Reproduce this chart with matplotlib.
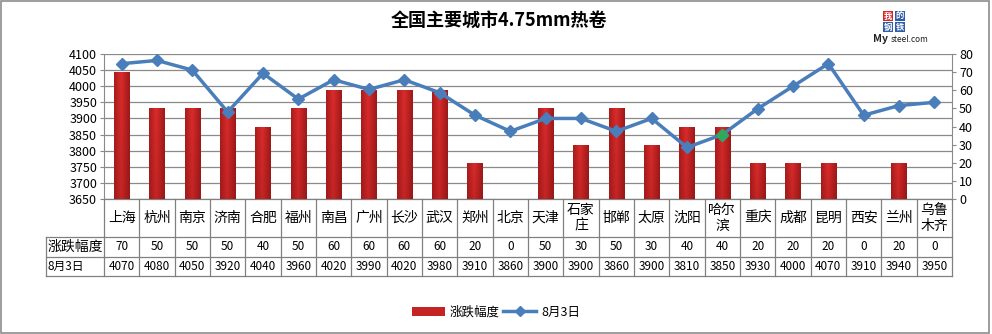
import numpy as np
import matplotlib
matplotlib.use("Agg")
import matplotlib.pyplot as plt
from matplotlib.patches import Rectangle
from matplotlib.lines import Line2D
from matplotlib.patches import Patch

plt.rcParams['font.family'] = ['Noto Sans CJK SC', 'DejaVu Sans']

cities = ['上海', '杭州', '南京', '济南', '合肥', '福州', '南昌', '广州', '长沙', '武汉', '郑州', '北京',
          '天津', '石家\n庄', '邯郸', '太原', '沈阳', '哈尔\n滨', '重庆', '成都', '昆明', '西安', '兰州', '乌鲁\n木齐']
change = [70, 50, 50, 50, 40, 50, 60, 60, 60, 60, 20, 0,
          50, 30, 50, 30, 40, 40, 20, 20, 20, 0, 20, 0]
price = [4070, 4080, 4050, 3920, 4040, 3960, 4020, 3990, 4020, 3980, 3910, 3860,
         3900, 3900, 3860, 3900, 3810, 3850, 3930, 4000, 4070, 3910, 3940, 3950]
left_ticks = list(range(3650, 4101, 50))
right_ticks = list(range(0, 81, 10))

W, H = 992, 334
fig = plt.figure(figsize=(W / 100, H / 100), dpi=100)
fig.patch.set_facecolor('white')
fig.add_artist(Rectangle((0.001, 0.002), 0.996, 0.995, transform=fig.transFigure,
                         fill=False, edgecolor='#8c8c8c', lw=1.2))

x0, x1, y0, y1 = 104, 952, 54, 199
ax = fig.add_axes([x0 / W, 1 - y1 / H, (x1 - x0) / W, (y1 - y0) / H])
ax2 = ax.twinx()
ax3 = ax.twinx()
for a, z in ((ax, 1), (ax2, 2), (ax3, 3)):
    a.set_zorder(z)
ax2.patch.set_visible(False)
ax3.patch.set_visible(False)

n = len(cities)
xs = np.arange(n)

# left axis: price scale and gridlines
ax.set_xlim(-0.5, n - 0.5)
ax.set_ylim(3650, 4100)
ax.set_yticks(left_ticks)
ax.yaxis.grid(True, color='#8a8a8a', lw=0.9)
ax.set_xticks([])
ax.tick_params(axis='y', labelsize=9, length=3, color='#8a8a8a', pad=2)
for s in ('top', 'right', 'bottom'):
    ax.spines[s].set_visible(False)
ax.spines['left'].set_color('#8a8a8a')

# right axis: change bars with gradient fill
ax2.set_xlim(-0.5, n - 0.5)
bars = ax2.bar(xs, change, width=0.43, color='none', edgecolor='none', zorder=2)
t = np.linspace(0, 1, 40)
prof = 1 - np.abs(t - 0.45) * 1.3
v = np.linspace(0.75, 1, 60)[:, None]
bright = np.array([0.86, 0.17, 0.17])
dark = np.array([0.52, 0.07, 0.07])
k = np.clip(prof[None, :] * v, 0, 1)[..., None]
grad = dark + (bright - dark) * k
for r in bars:
    if r.get_height() <= 0:
        continue
    im = ax2.imshow(grad, extent=[r.get_x(), r.get_x() + r.get_width(), 0, r.get_height()],
                    aspect='auto', origin='lower', zorder=2)
    im.set_clip_path(r)
ax2.set_xlim(-0.5, n - 0.5)
ax2.set_ylim(0, 80)
ax2.set_yticks(right_ticks)
ax2.tick_params(axis='y', labelsize=9, length=3, color='#8a8a8a', pad=2)
for s in ('top', 'left', 'bottom'):
    ax2.spines[s].set_visible(False)
ax2.spines['right'].set_color('#8a8a8a')

# price line on the left scale
ax3.set_xlim(-0.5, n - 0.5)
ax3.set_ylim(3650, 4100)
ax3.axis('off')
ax3.plot(xs, price, color='#4a7ebb', lw=2.5, marker='D', ms=6.5,
         markerfacecolor='#4a7ebb', markeredgecolor='#4a7ebb', zorder=3)
hi = cities.index('哈尔\n滨')
ax3.plot(xs[hi], price[hi], marker='D', ms=6.5, color='#2eaa5c', zorder=4)

# data table under the plot
def fx(px):
    return px / W

def fy(py):
    return 1 - py / H

col_w = (x1 - x0) / n
rows = [199, 237, 257, 276]
lc = '#808080'
lw = 0.9
fig.add_artist(Line2D([fx(x0), fx(x1)], [fy(199)] * 2, color=lc, lw=lw))
for yy in rows[1:]:
    fig.add_artist(Line2D([fx(46), fx(x1)], [fy(yy)] * 2, color=lc, lw=lw))
fig.add_artist(Line2D([fx(46)] * 2, [fy(237), fy(276)], color=lc, lw=lw))
for i in range(n + 1):
    xx = x0 + i * col_w
    fig.add_artist(Line2D([fx(xx)] * 2, [fy(199), fy(276)], color=lc, lw=lw))

for i, c in enumerate(cities):
    cx = x0 + (i + 0.5) * col_w
    fig.text(fx(cx), fy(218), c, ha='center', va='center', fontsize=10, linespacing=1.1)
    fig.text(fx(cx), fy(247), str(change[i]), ha='center', va='center', fontsize=8.5)
    fig.text(fx(cx), fy(266.5), str(price[i]), ha='center', va='center', fontsize=8.5)
fig.text(fx(48), fy(247), '涨跌幅度', ha='left', va='center', fontsize=10)
fig.text(fx(48), fy(266.5), '8月3日', ha='left', va='center', fontsize=8.5)

# title and logo
fig.text(0.503, fy(20), '全国主要城市4.75mm热卷', ha='center', va='center',
         fontsize=13, fontweight='bold')
for ch, (px, py), bg in (('我', (888, 16), '#d8262b'), ('的', (900, 16), '#2e5ea8'),
                         ('钢', (888, 27), '#2e5ea8'), ('铁', (900, 27), '#2e5ea8')):
    fig.text(fx(px), fy(py), ch, ha='center', va='center', fontsize=6, color='white',
             fontweight='bold', bbox=dict(boxstyle='square,pad=0.08', fc=bg, ec='none'))
fig.text(fx(873), fy(39), 'My', ha='left', va='center', fontsize=7.5, fontweight='bold',
         color='#222222')
fig.text(fx(891), fy(39.5), 'steel.com', ha='left', va='center', fontsize=6, color='#222222')

# legend
handles = [Patch(facecolor='#c42424', edgecolor='none'),
           Line2D([], [], color='#4a7ebb', lw=2.5, marker='D', ms=5)]
fig.legend(handles, ['涨跌幅度', '8月3日'], loc='center', bbox_to_anchor=(0.5, fy(312)),
           ncol=2, frameon=False, fontsize=9, handlelength=2.6, columnspacing=0.3,
           handletextpad=0.4)

fig.savefig('out.png', dpi=100)
